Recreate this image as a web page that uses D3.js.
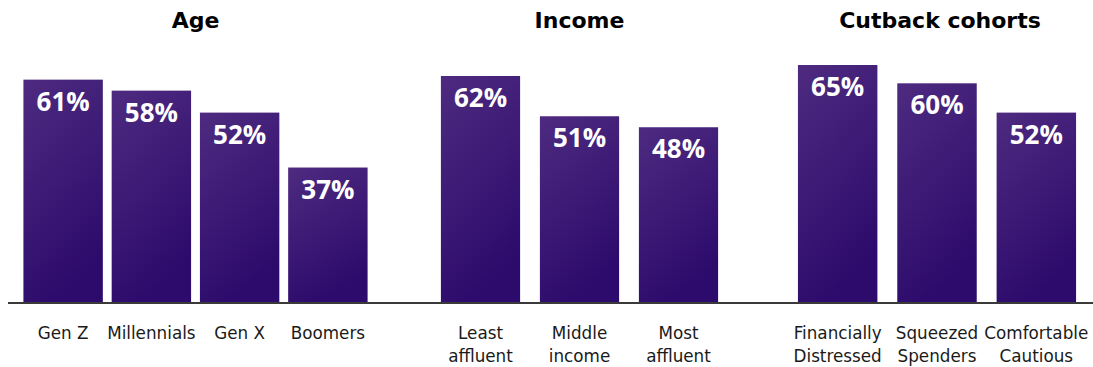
<!DOCTYPE html>
<html>
<head>
<meta charset="utf-8">
<script src="https://cdn.jsdelivr.net/npm/d3@7"></script>
<style>
  body { margin: 0; background: #fff; }
  svg { display: block; }
</style>
</head>
<body>
<svg width="1093" height="367"></svg>
<script>
const groups = ['Age', 'Income', 'Cutback cohorts']

const ageLabels = [['Gen Z'], ['Millennials'], ['Gen X'], ['Boomers']]
const ageValues = [61, 58, 52, 37]

const incomeLabels = [['Least', 'affluent'], ['Middle', 'income'], ['Most', 'affluent']]
const incomeValues = [62, 51, 48]

const cohortLabels = [['Financially', 'Distressed'], ['Squeezed', 'Spenders'], ['Comfortable', 'Cautious']]
const cohortValues = [65, 60, 52]

const width = 1093
const baseY = 303
const font = '"DejaVu Sans", sans-serif'

const svg = d3.select('svg')

const defs = svg.append('defs')
const grad = defs.append('linearGradient')
  .attr('id', 'barGrad')
  .attr('x1', '0').attr('y1', '0')
  .attr('x2', '0.35').attr('y2', '1')
grad.append('stop').attr('offset', '0%').attr('stop-color', '#4e2b80')
grad.append('stop').attr('offset', '100%').attr('stop-color', '#2d0b6c')

const y = d3.scaleLinear().domain([0, 65]).range([baseY, 65])

// each panel: its own band scale over a pixel range
const panels = [
  { title: groups[0], labels: ageLabels, values: ageValues, range: [19, 372], pad: 0.1 },
  { title: groups[1], labels: incomeLabels, values: incomeValues, range: [431, 728], pad: 0.2 },
  { title: groups[2], labels: cohortLabels, values: cohortValues, range: [788, 1086], pad: 0.2 },
]

panels.forEach((p) => {
  const x = d3.scaleBand()
    .domain(p.labels.map((d) => d.join(' ')))
    .range(p.range)
    .paddingInner(p.pad)
    .paddingOuter(p.pad / 2)

  const g = svg.append('g')
  const rows = p.labels.map((l, i) => ({ key: l.join(' '), lines: l, value: p.values[i] }))

  g.selectAll('rect')
    .data(rows)
    .join('rect')
    .attr('x', (d) => x(d.key))
    .attr('y', (d) => y(d.value))
    .attr('width', x.bandwidth())
    .attr('height', (d) => baseY - y(d.value))
    .attr('fill', 'url(#barGrad)')

  g.selectAll('text.val')
    .data(rows)
    .join('text')
    .attr('class', 'val')
    .attr('x', (d) => x(d.key) + x.bandwidth() / 2)
    .attr('y', (d) => y(d.value) + 31)
    .attr('text-anchor', 'middle')
    .attr('fill', '#fff')
    .attr('font-family', '"Open Sans", sans-serif')
    .attr('font-weight', 700)
    .attr('font-size', 26)
    .text((d) => d.value + '%')

  const cat = g.selectAll('text.cat')
    .data(rows)
    .join('text')
    .attr('class', 'cat')
    .attr('text-anchor', 'middle')
    .attr('fill', '#1a1a1a')
    .attr('font-family', font)
    .attr('font-size', 16.8)
  cat.selectAll('tspan')
    .data((d) => d.lines.map((t) => ({ t, cx: x(d.key) + x.bandwidth() / 2 })))
    .join('tspan')
    .attr('x', (d) => d.cx)
    .attr('y', (d, i) => 339 + i * 22.5)
    .text((d) => d.t)

  svg.append('text')
    .attr('x', (p.range[0] + p.range[1]) / 2 + (p.title === 'Cutback cohorts' ? 3 : 0))
    .attr('y', 28)
    .attr('text-anchor', 'middle')
    .attr('font-family', font)
    .attr('font-weight', 700)
    .attr('font-size', 22)
    .attr('fill', '#000')
    .text(p.title)
})

svg.append('line')
  .attr('x1', 8).attr('x2', width)
  .attr('y1', baseY).attr('y2', baseY)
  .attr('stroke', '#3a3a3a')
  .attr('stroke-width', 2)
</script>
</body>
</html>
